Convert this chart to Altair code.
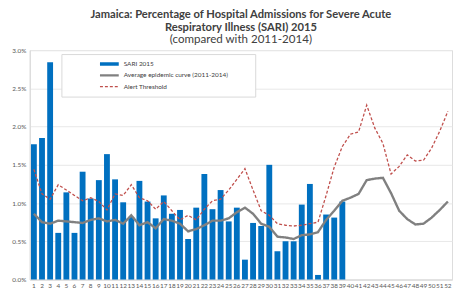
import altair as alt
import pandas as pd

weeks = list(range(1, 53))

# SARI 2015 (% of hospital admissions), weeks 1-39
sari_2015 = [1.77, 1.85, 2.84, 0.61, 1.14, 0.61, 1.41, 1.06, 1.30, 1.64,
             1.31, 1.01, 0.82, 1.29, 1.02, 0.80, 1.10, 0.86, 0.91, 0.53,
             0.94, 1.38, 0.92, 1.17, 0.76, 0.94, 0.26, 0.74, 0.70, 1.50,
             0.37, 0.50, 0.50, 0.98, 1.25, 0.06, 0.85, 0.81, 1.02]

# Average epidemic curve 2011-2014, weeks 1-52
avg_curve = [0.86, 0.75, 0.73, 0.77, 0.76, 0.75, 0.74, 0.78, 0.80, 0.76,
             0.78, 0.73, 0.84, 0.71, 0.75, 0.67, 0.79, 0.77, 0.73, 0.63,
             0.66, 0.71, 0.77, 0.77, 0.80, 0.88, 0.94, 0.86, 0.73, 0.69,
             0.56, 0.55, 0.53, 0.58, 0.59, 0.62, 0.78, 0.90, 1.03, 1.07,
             1.12, 1.30, 1.32, 1.33, 1.13, 0.90, 0.79, 0.72, 0.73, 0.81,
             0.91, 1.02]

# Alert threshold, weeks 1-52
alert_threshold = [1.44, 1.12, 1.05, 1.24, 1.17, 1.10, 1.03, 1.07, 1.02, 0.91,
                   1.12, 1.10, 1.24, 1.07, 1.03, 0.92, 1.02, 0.90, 0.78, 0.84,
                   0.78, 0.92, 1.03, 1.05, 1.17, 1.31, 1.45, 1.17, 0.90, 0.84,
                   0.73, 0.71, 0.70, 0.71, 0.73, 0.75, 1.10, 1.47, 1.74, 1.90,
                   1.93, 2.28, 1.98, 1.78, 1.38, 1.48, 1.63, 1.55, 1.56, 1.72,
                   1.94, 2.20]

series_names = ["SARI 2015", "Average epidemic curve (2011-2014)", "Alert Threshold"]
series_colors = ["#0070C0", "#808080", "#C0504D"]
y_ticks = [0, 0.005, 0.01, 0.015, 0.02, 0.025, 0.03]

bars_df = pd.DataFrame({
    "week": weeks[:len(sari_2015)],
    "value": [v / 100 for v in sari_2015],
})
lines_df = pd.concat([
    pd.DataFrame({"week": weeks, "value": [v / 100 for v in avg_curve], "series": series_names[1]}),
    pd.DataFrame({"week": weeks, "value": [v / 100 for v in alert_threshold], "series": series_names[2]}),
])

FONT = "Lato"

x = alt.X("week:O",
          scale=alt.Scale(domain=weeks, paddingInner=0.28, paddingOuter=0.15),
          axis=alt.Axis(title=None, labelAngle=0, labelFontSize=6.5, labelColor="#595959",
                        labelFont=FONT, ticks=False, domainColor="#d9d9d9", labelPadding=3))
y = alt.Y("value:Q",
          scale=alt.Scale(domain=[0, 0.03], nice=False),
          axis=alt.Axis(title=None, format=".1%", values=y_ticks, labelFontSize=6.5,
                        labelColor="#595959", labelFont=FONT, ticks=False,
                        domainColor="#d9d9d9", gridColor="#e8e8e8", labelPadding=4))

legend_cfg = dict(title=" ", titleOrient="right", titlePadding=22,
                  orient="none", legendX=32, legendY=4,
                  symbolType="stroke", symbolSize=361, symbolOffset=32, clipHeight=10,
                  labelFont=FONT, labelFontSize=6.5, labelColor="#404040",
                  strokeColor="#d9d9d9", fillColor="white", padding=5,
                  rowPadding=1.5, labelOffset=3)

lines = alt.Chart(lines_df).mark_line().encode(
    x=x, y=y,
    color=alt.Color("series:N",
                    scale=alt.Scale(domain=series_names, range=series_colors),
                    legend=alt.Legend(**legend_cfg)),
    strokeDash=alt.StrokeDash("series:N",
                              scale=alt.Scale(domain=series_names, range=[[1, 0], [1, 0], [3, 2]]),
                              legend=alt.Legend(**legend_cfg)),
    strokeWidth=alt.StrokeWidth("series:N",
                                scale=alt.Scale(domain=series_names, range=[3.5, 1.3, 1.2]),
                                legend=alt.Legend(**legend_cfg)),
)

bars = alt.Chart(bars_df).mark_bar(color="#0070C0").encode(x=x, y=y)

chart = alt.layer(bars, lines).properties(
    width=427, height=232,
    padding={"left": 3, "top": 0, "right": 0, "bottom": 0},
    title=alt.TitleParams(
        text=["Jamaica: Percentage of Hospital Admissions for Severe Acute",
              "Respiratory Illness (SARI) 2015"],
        subtitle="(compared with 2011-2014)",
        font=FONT, fontSize=11.3, fontWeight="bold", color="#404040",
        subtitleFont=FONT, subtitleFontSize=11.7, subtitleColor="#404040",
        lineHeight=12.5, subtitleLineHeight=12, subtitlePadding=1.5,
        anchor="middle", offset=1,
    ),
).configure_view(stroke=None).configure(background="white")

chart.save("out.html", embed_options={"renderer": "svg", "actions": False})
